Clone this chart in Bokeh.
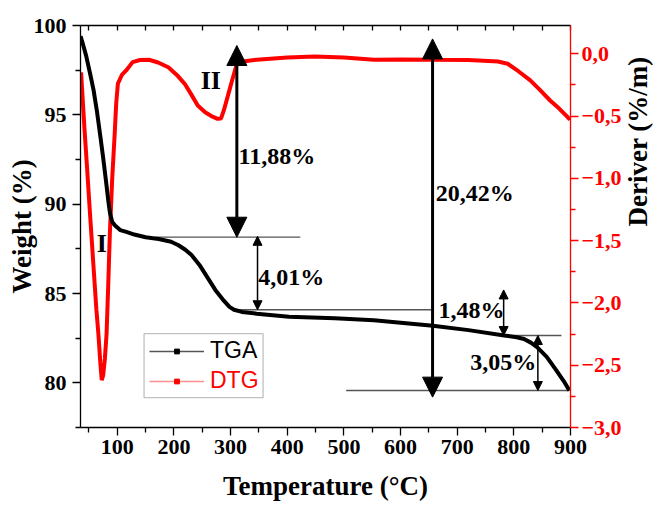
import math
from bokeh.plotting import figure
from bokeh.models import (Range1d, LinearAxis, FixedTicker, CustomJSTickFormatter, Arrow,
                          NormalHead, Legend, LegendItem, BoxAnnotation, ColumnDataSource)
from bokeh.core.properties import value
from bokeh.embed import file_html
from bokeh.resources import INLINE

# ---------------- data ----------------
tga_temp = [35, 38, 45, 52, 58, 64, 70, 75, 80, 84, 87, 91, 96, 105, 116, 130, 150, 173, 195,
            208, 220, 231, 245, 259, 273, 288, 298, 306, 320, 346, 403, 484, 553, 657, 720,
            783, 805, 818, 830, 841, 858, 875, 888, 898]
tga_weight = [99.4, 99.1, 98.3, 97.3, 96.4, 95.2, 93.8, 92.6, 91.3, 90.2, 89.5, 89.0, 88.8,
              88.55, 88.45, 88.3, 88.15, 88.05, 87.9, 87.7, 87.45, 87.15, 86.6, 85.9, 85.2,
              84.6, 84.25, 84.09, 83.97, 83.87, 83.7, 83.62, 83.5, 83.2, 82.95, 82.65, 82.55,
              82.45, 82.25, 82.0, 81.45, 80.7, 80.1, 79.57]

dtg_temp = [36, 38, 42, 46.5, 52, 58, 63, 66.6, 70, 72.5, 75, 78, 81, 84, 86.8, 91, 95.4, 98,
            101, 108, 115.6, 127, 140, 156, 172, 190, 205, 219, 231, 242, 255, 266, 277, 283,
            288, 295, 302.6, 311, 325, 346, 400, 449, 500, 553, 600, 657, 720, 772, 789, 808,
            829, 846, 864, 880, 895, 899]
dtg_value = [-0.15, -0.3, -0.6, -0.91, -1.3, -1.71, -2.05, -2.25, -2.48, -2.62, -2.58, -2.45,
             -2.25, -1.85, -1.445, -1.0, -0.64, -0.4, -0.24, -0.17, -0.134, -0.067, -0.05,
             -0.048, -0.07, -0.108, -0.17, -0.241, -0.33, -0.415, -0.47, -0.5, -0.522, -0.52,
             -0.455, -0.34, -0.214, -0.08, -0.06, -0.048, -0.03, -0.022, -0.03, -0.048, -0.045,
             -0.048, -0.05, -0.062, -0.08, -0.14, -0.214, -0.29, -0.375, -0.44, -0.509, -0.53]

x_ticks = [100, 200, 300, 400, 500, 600, 700, 800, 900]
x_minor = [50, 150, 250, 350, 450, 550, 650, 750, 850]
w_ticks = [80, 85, 90, 95, 100]
w_minor = [77.5, 82.5, 87.5, 92.5, 97.5]
d_ticks = [0.0, -0.5, -1.0, -1.5, -2.0, -2.5, -3.0]
d_labels = ["0,0", "\u22120,5", "\u22121,0", "\u22121,5", "\u22122,0", "\u22122,5", "\u22123,0"]
d_minor = [-0.25, -0.75, -1.25, -1.75, -2.25, -2.75]

# mass-loss annotation levels
ref_y = [88.15, 84.09, 82.65, 79.57]
ref_x0 = [167, 305, 783, 504]
ref_x1 = [423, 656, 884, 898]

arrow_x = [311, 656.5, 347.5, 782, 842.4]
arrow_top = [98.88, 99.25, 88.2, 85.2, 82.65]
arrow_bottom = [88.15, 79.2, 84.09, 82.65, 79.57]
arrow_big = [True, True, False, False, False]

loss_labels = ["11,88%", "20,42%", "4,01%", "1,48%", "3,05%"]
loss_x = [314, 662, 349, 667, 723]
loss_y = [92.7, 90.6, 85.9, 84.05, 81.16]

stage_labels = ["I", "II"]
stage_x = [72.4, 265]
stage_y = [87.8, 96.9]

SERIF = "Liberation Serif"

p = figure(width=670, height=509, output_backend="svg", toolbar_location=None,
           x_range=Range1d(35, 900), y_range=Range1d(77.5, 100),
           min_border_left=80, min_border_right=88, min_border_top=25, min_border_bottom=82,
           x_axis_label="Temperature (\u00b0C)", y_axis_label="Weight (%)")
p.extra_y_ranges = {"deriv": Range1d(-3.0, 0.227)}
p.outline_line_color = None
p.xgrid.visible = False
p.ygrid.visible = False
p.background_fill_color = "white"


def style_axis(ax, color="black"):
    ax.axis_line_color = color
    ax.axis_line_width = 1.3
    ax.major_tick_line_color = color
    ax.minor_tick_line_color = color
    ax.major_tick_line_width = 1.3
    ax.minor_tick_line_width = 1.3
    ax.major_tick_out = 8
    ax.major_tick_in = 0
    ax.minor_tick_out = 5
    ax.minor_tick_in = 0
    ax.major_label_text_font = SERIF
    ax.major_label_text_font_style = "bold"
    ax.major_label_text_font_size = "22px"
    ax.major_label_text_color = color
    ax.major_label_standoff = 6
    ax.axis_label_text_font = SERIF
    ax.axis_label_text_font_style = "bold"
    ax.axis_label_text_font_size = "27px"
    ax.axis_label_text_color = "black"
    ax.axis_label_standoff = 2


xa = p.xaxis[0]
xa.ticker = FixedTicker(ticks=x_ticks, minor_ticks=x_minor)
style_axis(xa)
xa.major_label_standoff = 4
xa.axis_label_standoff = 14

ya = p.yaxis[0]
ya.ticker = FixedTicker(ticks=w_ticks, minor_ticks=w_minor)
style_axis(ya)
ya.axis_label_standoff = -6

ra = LinearAxis(y_range_name="deriv", axis_label="Deriver (%/m)",
                ticker=FixedTicker(ticks=d_ticks, minor_ticks=d_minor),
                formatter=CustomJSTickFormatter(args=dict(tvals=d_ticks, tlabels=d_labels), code="""
                    for (let i = 0; i < tvals.length; i++) {
                        if (Math.abs(tvals[i] - tick) < 1e-9) return tlabels[i];
                    }
                    return '';
                """))
style_axis(ra, "red")
ra.major_label_standoff = 3
ra.axis_label_standoff = 13
ra.axis_label_orientation = math.pi / 2
p.add_layout(ra, "right")

ta = LinearAxis(ticker=FixedTicker(ticks=x_ticks, minor_ticks=x_minor))
ta.axis_line_color = "black"
ta.axis_line_width = 1.3
ta.major_tick_in = 5
ta.major_tick_out = 0
ta.minor_tick_in = 5
ta.minor_tick_out = 0
ta.major_tick_line_width = 1.3
ta.minor_tick_line_width = 1.3
ta.major_label_text_font_size = "1px"
ta.major_label_text_alpha = 0
ta.major_label_standoff = 0
p.add_layout(ta, "above")

# reference lines
p.segment(x0=ref_x0, x1=ref_x1, y0=ref_y, y1=ref_y, line_color="#555555", line_width=1.3)

# curves
p.line(dtg_temp, dtg_value, y_range_name="deriv", line_color="red", line_width=4)
p.line(tga_temp, tga_weight, line_color="black", line_width=4)

# arrows
for xa_, yt, yb, big in zip(arrow_x, arrow_top, arrow_bottom, arrow_big):
    s = 20 if big else 9
    lw = 3 if big else 1.5
    p.add_layout(Arrow(x_start=xa_, y_start=yb, x_end=xa_, y_end=yt,
                       start=NormalHead(size=s, fill_color="black", line_color="black", line_width=1),
                       end=NormalHead(size=s, fill_color="black", line_color="black", line_width=1),
                       line_color="black", line_width=lw))

# texts
p.text(x=loss_x, y=loss_y, text=loss_labels, text_font=value(SERIF), text_font_style="bold",
       text_font_size="24px", text_baseline="middle", text_align="left", text_color="black")
p.text(x=stage_x, y=stage_y, text=stage_labels, text_font=value(SERIF), text_font_style="bold",
       text_font_size="26px", text_baseline="middle", text_align="center", text_color="black")

# legend (sample glyphs use sources with a single NaN point, so nothing is drawn in the plot)
nan_src = dict(x=[float("nan")], y=[float("nan")])
tl = p.line("x", "y", source=ColumnDataSource(nan_src), line_color="#555555", line_width=1.5)
tm = p.scatter("x", "y", source=ColumnDataSource(nan_src), marker="square", size=4, color="black")
dl = p.line("x", "y", source=ColumnDataSource(nan_src), line_color="#ff9090", line_width=1.5)
dm = p.scatter("x", "y", source=ColumnDataSource(nan_src), marker="square", size=4, color="red")

p.add_layout(BoxAnnotation(left=147.2, right=357.3, top=82.75, bottom=79.17,
                           fill_color=None, line_color="#333333", line_width=1.3))

for items, col, loc in (([LegendItem(label="TGA", renderers=[tl, tm])], "black", (69, 63)),
                        ([LegendItem(label="DTG", renderers=[dl, dm])], "red", (69, 33))):
    lg = Legend(items=items, location=loc, padding=0, margin=0, spacing=0,
                glyph_width=55, glyph_height=12, label_height=26, label_standoff=6,
                label_text_font="Liberation Sans", label_text_font_size="23px",
                label_text_color=col, border_line_color=None, background_fill_alpha=0)
    p.add_layout(lg, "center")

open("out.html", "w").write(file_html(p, INLINE))
